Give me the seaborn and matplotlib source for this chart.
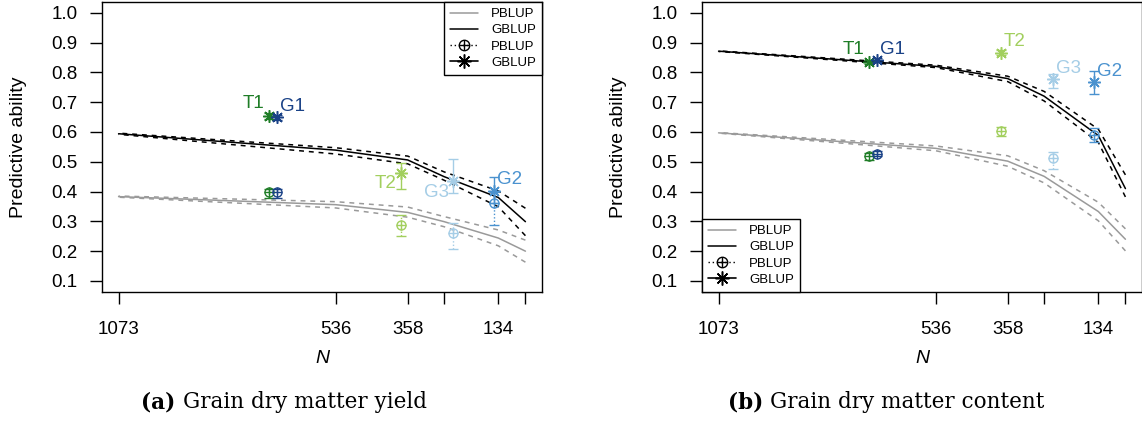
import numpy as np
import pandas as pd
import matplotlib
matplotlib.use("Agg")
import matplotlib.pyplot as plt
from matplotlib.lines import Line2D
from matplotlib.legend_handler import HandlerTuple
import seaborn as sns

# ---------------- data ----------------
N_grid = [1073, 536, 358, 268, 134, 67]
N_labels = ["1073", "536", "358", "", "134", ""]
y_ticks = [0.1, 0.2, 0.3, 0.4, 0.5, 0.6, 0.7, 0.8, 0.9, 1.0]

# (a) grain dry matter yield - curves
yield_gblup    = [0.594, 0.539, 0.506, 0.450, 0.380, 0.299]
yield_gblup_hi = [0.596, 0.547, 0.519, 0.466, 0.402, 0.344]
yield_gblup_lo = [0.592, 0.526, 0.493, 0.438, 0.349, 0.252]
yield_pblup    = [0.383, 0.356, 0.330, 0.299, 0.244, 0.200]
yield_pblup_hi = [0.385, 0.366, 0.348, 0.316, 0.271, 0.237]
yield_pblup_lo = [0.381, 0.345, 0.314, 0.282, 0.218, 0.163]

# (b) grain dry matter content - curves
content_gblup    = [0.871, 0.820, 0.779, 0.720, 0.588, 0.410]
content_gblup_hi = [0.872, 0.824, 0.787, 0.736, 0.609, 0.456]
content_gblup_lo = [0.870, 0.816, 0.769, 0.704, 0.565, 0.382]
content_pblup    = [0.597, 0.545, 0.502, 0.451, 0.333, 0.240]
content_pblup_hi = [0.598, 0.553, 0.520, 0.470, 0.364, 0.275]
content_pblup_lo = [0.596, 0.537, 0.485, 0.429, 0.302, 0.201]

# groups (points)
groups = ["T1", "G1", "T2", "G3", "G2"]
group_N = [700, 681, 375, 245, 145]
group_colors = ["#1f7d27", "#1a4287", "#a2cf5e", "#a5cde6", "#4a92cf"]

yield_pt_gblup    = [0.654, 0.649, 0.463, 0.434, 0.402]
yield_pt_gblup_lo = [0.645, 0.640, 0.409, 0.396, 0.360]
yield_pt_gblup_hi = [0.662, 0.657, 0.497, 0.508, 0.448]
yield_pt_pblup    = [0.397, 0.397, 0.288, 0.260, 0.361]
yield_pt_pblup_lo = [0.380, 0.378, 0.252, 0.207, 0.289]
yield_pt_pblup_hi = [0.410, 0.408, 0.322, 0.295, 0.397]

content_pt_gblup    = [0.836, 0.841, 0.866, 0.776, 0.767]
content_pt_gblup_lo = [0.828, 0.834, 0.858, 0.748, 0.727]
content_pt_gblup_hi = [0.843, 0.848, 0.874, 0.796, 0.803]
content_pt_pblup    = [0.518, 0.527, 0.603, 0.511, 0.589]
content_pt_pblup_lo = [0.507, 0.518, 0.588, 0.475, 0.565]
content_pt_pblup_hi = [0.529, 0.536, 0.618, 0.534, 0.612]

# label placement per panel (ul = upper-left, ur = upper-right, ll = lower-left)
yield_label_pos = ["ul", "ur", "ll", "ll", "ur"]
content_label_pos = ["ul", "ur", "ur", "ur", "ur"]

# ---------------- style ----------------
sns.set_style("ticks")
plt.rcParams["font.family"] = ["Liberation Sans", "DejaVu Sans"]
plt.rcParams["axes.linewidth"] = 1.0
plt.rcParams["text.color"] = "black"
plt.rcParams["axes.labelcolor"] = "black"
plt.rcParams["xtick.color"] = "black"
plt.rcParams["ytick.color"] = "black"

W, H = 1142, 423
fig = plt.figure(figsize=(W / 100, H / 100), dpi=100)

ax_w, ax_h = 439.4, 289.7
ax_top = 2.0
axes_left_px = [102.3, 702.3]

GRAY = "#9a9a9a"
DASH = (0, (3.2, 3.2))
LW = 1.1
CIRC_MS = 6.5


def oplus(ax, x, y, c):
    ax.plot([x], [y], marker="o", mfc="none", mec=c, mew=1.0, markersize=CIRC_MS,
            linestyle="none")
    ax.plot([x], [y], marker="+", color=c, mew=1.0, markersize=CIRC_MS, linestyle="none")


def draw_panel(ax, gb, gb_hi, gb_lo, pb, pb_hi, pb_lo,
               pt_gb, pt_gb_lo, pt_gb_hi, pt_pb, pt_pb_lo, pt_pb_hi,
               label_pos, legend_loc):
    df = pd.DataFrame({"N": N_grid, "gb": gb, "gb_hi": gb_hi, "gb_lo": gb_lo,
                       "pb": pb, "pb_hi": pb_hi, "pb_lo": pb_lo})
    for col, color, ls in [("pb", GRAY, "-"), ("pb_hi", GRAY, DASH), ("pb_lo", GRAY, DASH),
                           ("gb", "black", "-"), ("gb_hi", "black", DASH), ("gb_lo", "black", DASH)]:
        sns.lineplot(data=df, x="N", y=col, ax=ax, color=color, linewidth=LW,
                     linestyle=ls, estimator=None, legend=False)

    for i, g in enumerate(groups):
        c = group_colors[i]
        # PBLUP point (circle-plus) with dotted error bar
        eb = ax.errorbar([group_N[i]], [pt_pb[i]],
                         yerr=[[pt_pb[i] - pt_pb_lo[i]], [pt_pb_hi[i] - pt_pb[i]]],
                         fmt="none", ecolor=c, elinewidth=1.0, capsize=3.5, capthick=1.0)
        eb[2][0].set_linestyle((0, (1, 1.5)))
        oplus(ax, group_N[i], pt_pb[i], c)
        # GBLUP point (asterisk) with solid error bar
        ax.errorbar([group_N[i]], [pt_gb[i]],
                    yerr=[[pt_gb[i] - pt_gb_lo[i]], [pt_gb_hi[i] - pt_gb[i]]],
                    fmt="none", ecolor=c, elinewidth=1.0, capsize=3.5, capthick=1.0)
        ax.plot([group_N[i]], [pt_gb[i]], marker=(8, 2, 0), color=c, markersize=9,
                markeredgewidth=1.1, linestyle="none")
        pos = label_pos[i]
        if pos == "ul":
            off, ha = (-5, 12), "right"
        elif pos == "ur":
            off, ha = (3, 11), "left"
        else:
            off, ha = (-4, -11), "right"
        ax.annotate(g, (group_N[i], pt_gb[i]), xytext=off, textcoords="offset pixels",
                    ha=ha, va="center", color=c, fontsize=13.5)

    rng = N_grid[0] - N_grid[-1]
    ax.set_xlim(N_grid[0] + 0.04 * rng, N_grid[-1] - 0.04 * rng)
    yr = y_ticks[-1] - y_ticks[0]
    ax.set_ylim(y_ticks[0] - 0.04 * yr, y_ticks[-1] + 0.04 * yr)
    ax.set_xticks(N_grid)
    ax.set_xticklabels(N_labels)
    ax.set_yticks(y_ticks)
    ax.set_yticklabels([f"{v:.1f}" for v in y_ticks])
    ax.tick_params(axis="x", length=8.3, width=1.0, pad=13, labelsize=13.5, colors="black")
    ax.tick_params(axis="y", length=8.6, width=1.0, pad=9, labelsize=13.5, colors="black")
    for s in ax.spines.values():
        s.set_color("black")
        s.set_linewidth(1.0)
    ax.set_xlabel("N", fontsize=14, fontstyle="italic", color="black")
    ax.xaxis.set_label_coords(0.5, -0.2)
    ax.set_ylabel("Predictive ability", fontsize=14, color="black")
    ax.yaxis.set_label_coords(-0.172, 0.5)

    h_pb_line = Line2D([], [], color="black", lw=1.0, linestyle=(0, (1, 2)))
    h_circ = Line2D([], [], color="black", marker="o", mfc="none", mew=1.0,
                    markersize=CIRC_MS + 1, linestyle="none")
    h_plus = Line2D([], [], color="black", marker="+", mew=1.0,
                    markersize=CIRC_MS + 1, linestyle="none")
    handles = [Line2D([], [], color=GRAY, lw=LW),
               Line2D([], [], color="black", lw=LW),
               (h_pb_line, h_circ, h_plus),
               Line2D([], [], color="black", lw=1.2, marker=(8, 2, 0), markersize=10,
                      markeredgewidth=1.1)]
    leg = ax.legend(handles, ["PBLUP", "GBLUP", "PBLUP", "GBLUP"], loc=legend_loc,
                    borderaxespad=0, fancybox=False, framealpha=1, edgecolor="black",
                    fontsize=9.5, handlelength=2.1, handletextpad=1.0, labelspacing=0.3,
                    borderpad=0.45, numpoints=1,
                    handler_map={tuple: HandlerTuple(ndivide=1, pad=0)})
    leg.get_frame().set_linewidth(1.0)
    for t in leg.get_texts():
        t.set_color("black")


panels = [
    (yield_gblup, yield_gblup_hi, yield_gblup_lo, yield_pblup, yield_pblup_hi, yield_pblup_lo,
     yield_pt_gblup, yield_pt_gblup_lo, yield_pt_gblup_hi,
     yield_pt_pblup, yield_pt_pblup_lo, yield_pt_pblup_hi, yield_label_pos, "upper right"),
    (content_gblup, content_gblup_hi, content_gblup_lo, content_pblup, content_pblup_hi,
     content_pblup_lo, content_pt_gblup, content_pt_gblup_lo, content_pt_gblup_hi,
     content_pt_pblup, content_pt_pblup_lo, content_pt_pblup_hi, content_label_pos, "lower left"),
]

for left_px, args in zip(axes_left_px, panels):
    ax = fig.add_axes([left_px / W, (H - ax_top - ax_h) / H, ax_w / W, ax_h / H])
    draw_panel(ax, *args)

# captions
cap_y = 1 - 402 / H
for xa, xt, tag, txt in [(141, 183, "(a)", "Grain dry matter yield"),
                          (727.5, 769.5, "(b)", "Grain dry matter content")]:
    fig.text(xa / W, cap_y, tag, fontsize=15.5, fontweight="bold", family="DejaVu Serif",
             ha="left", va="center", color="black")
    fig.text(xt / W, cap_y, txt, fontsize=15.5, family="DejaVu Serif", ha="left",
             va="center", color="black")

fig.savefig("out.png", dpi=100)
